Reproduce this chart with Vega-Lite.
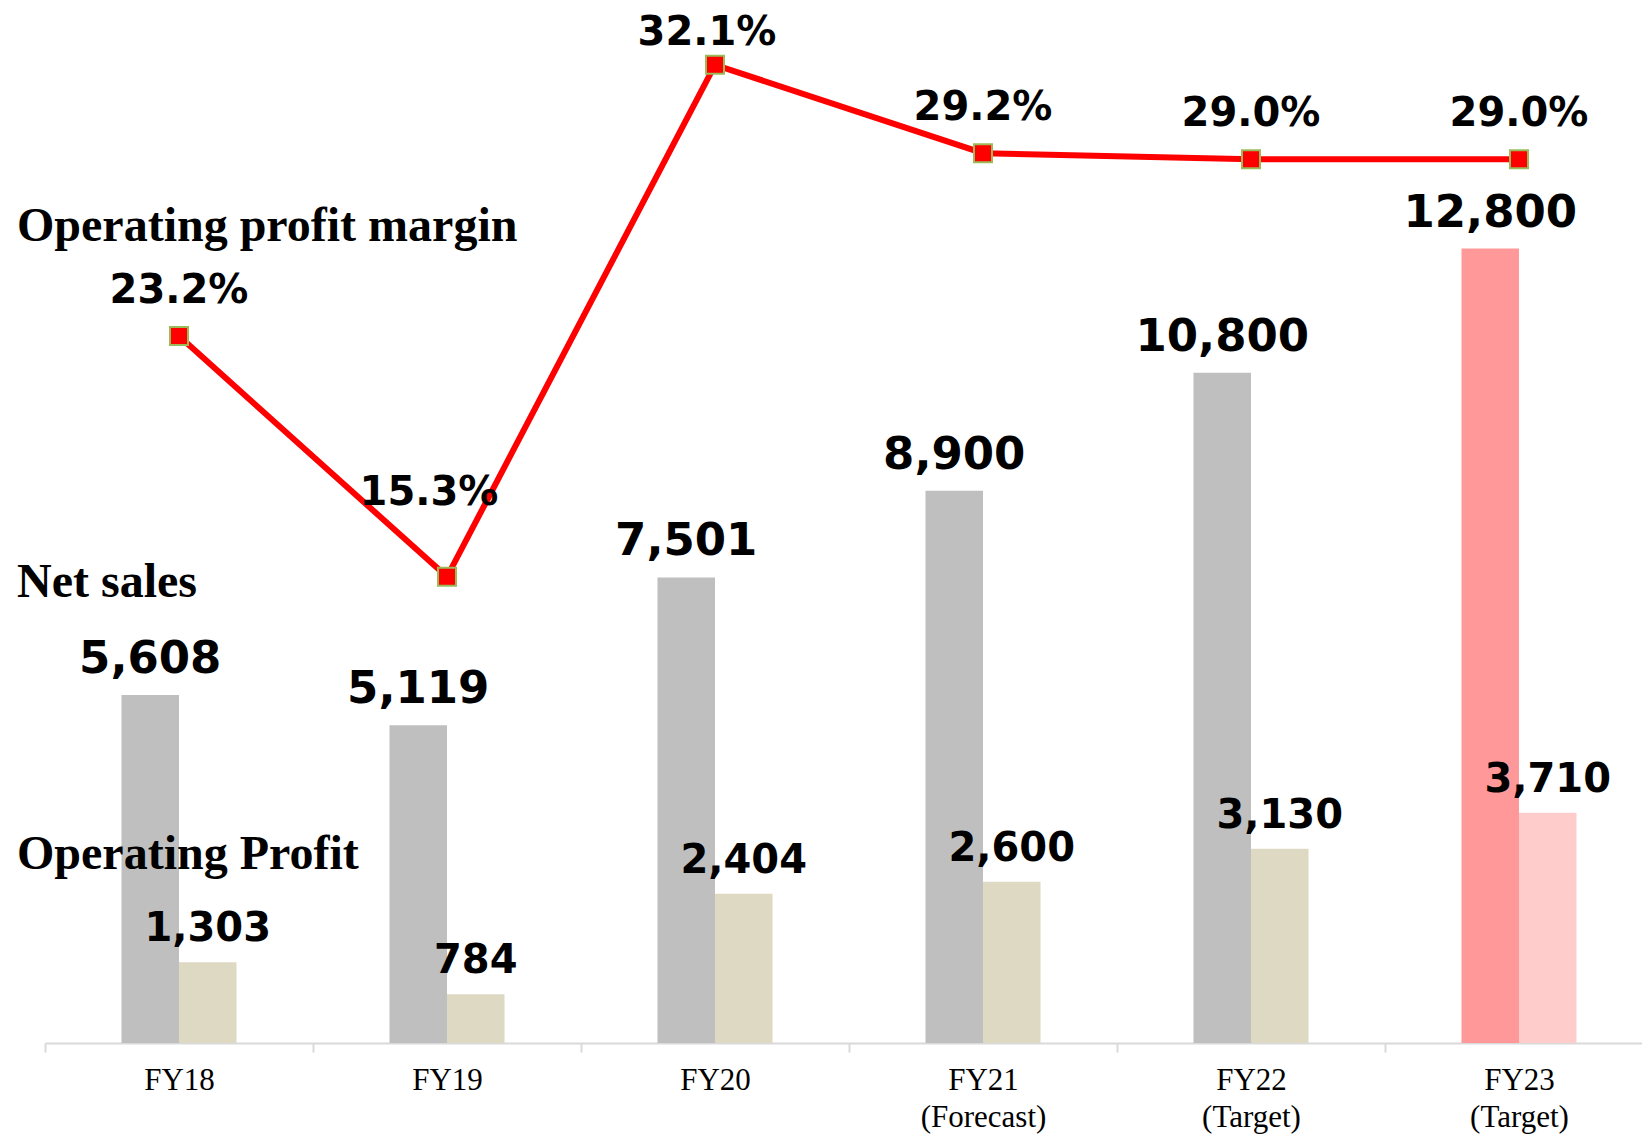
{
  "$schema": "https://vega.github.io/schema/vega-lite/v6.json",
  "autosize": "none",
  "width": 1597,
  "height": 1033,
  "padding": {"left": 45, "top": 10, "right": 0, "bottom": 91},
  "background": "white",
  "config": {"view": {"stroke": null}},
  "datasets": {
    "bars": [
      {"cat": "FY18", "series": "Net sales", "value": 5608},
      {"cat": "FY18", "series": "Operating profit", "value": 1303},
      {"cat": "FY19", "series": "Net sales", "value": 5119},
      {"cat": "FY19", "series": "Operating profit", "value": 784},
      {"cat": "FY20", "series": "Net sales", "value": 7501},
      {"cat": "FY20", "series": "Operating profit", "value": 2404},
      {"cat": "FY21 (Forecast)", "series": "Net sales", "value": 8900},
      {"cat": "FY21 (Forecast)", "series": "Operating profit", "value": 2600},
      {"cat": "FY22 (Target)", "series": "Net sales", "value": 10800},
      {"cat": "FY22 (Target)", "series": "Operating profit", "value": 3130},
      {"cat": "FY23 (Target)", "series": "Net sales", "value": 12800},
      {"cat": "FY23 (Target)", "series": "Operating profit", "value": 3710}
    ],
    "margin": [
      {"cat": "FY18", "margin": 0.232},
      {"cat": "FY19", "margin": 0.153},
      {"cat": "FY20", "margin": 0.321},
      {"cat": "FY21 (Forecast)", "margin": 0.292},
      {"cat": "FY22 (Target)", "margin": 0.290},
      {"cat": "FY23 (Target)", "margin": 0.290}
    ],
    "notes": [
      {"cat": "FY18", "value": 12923, "note": "Operating profit margin"},
      {"cat": "FY18", "value": 7187, "note": "Net sales"},
      {"cat": "FY18", "value": 2804, "note": "Operating Profit"}
    ]
  },
  "encoding": {
    "x": {
      "field": "cat",
      "type": "nominal",
      "sort": null,
      "scale": {
        "domain": ["FY18", "FY19", "FY20", "FY21 (Forecast)", "FY22 (Target)", "FY23 (Target)"],
        "range": [0, 1608],
        "paddingInner": 0,
        "paddingOuter": 0
      },
      "axis": {
        "title": null,
        "labelAngle": 0,
        "labelFont": "Liberation Serif",
        "labelFontSize": 31,
        "labelColor": "black",
        "labelLineHeight": 37,
        "labelExpr": "split(datum.label, ' ')",
        "labelPadding": 13,
        "domainColor": "#D9D9D9",
        "domainWidth": 2,
        "tickColor": "#D9D9D9",
        "tickWidth": 2,
        "tickSize": 9,
        "tickBand": "extent",
        "grid": false
      }
    }
  },
  "layer": [
    {
      "data": {"name": "bars"},
      "mark": {"type": "bar"},
      "encoding": {
        "xOffset": {"field": "series", "type": "nominal", "scale": {"domain": ["_a", "Net sales", "Operating profit", "_b"], "paddingInner": 0, "paddingOuter": 0.33}},
        "y": {"field": "value", "type": "quantitative", "scale": {"domain": [0, 16645], "nice": false, "zero": true}, "axis": null},
        "color": {
          "condition": [
            {"test": "datum.cat === 'FY23 (Target)' && datum.series === 'Net sales'", "value": "#FF9999"},
            {"test": "datum.cat === 'FY23 (Target)'", "value": "#FFCCCC"},
            {"test": "datum.series === 'Net sales'", "value": "#BFBFBF"}
          ],
          "value": "#DDD9C3"
        }
      }
    },
    {
      "data": {"name": "bars"},
      "transform": [{"filter": "datum.series === 'Net sales'"}],
      "mark": {"type": "text", "font": "DejaVu Sans", "fontWeight": "bold", "fontSize": 45, "baseline": "alphabetic", "dy": -22, "color": "black"},
      "encoding": {
        "xOffset": {"field": "series", "type": "nominal", "scale": {"domain": ["_a", "Net sales", "Operating profit", "_b"], "paddingInner": 0, "paddingOuter": 0.33}},
        "y": {"field": "value", "type": "quantitative", "scale": {"domain": [0, 16645], "nice": false, "zero": true}, "axis": null},
        "text": {"field": "value", "type": "quantitative", "format": ","}
      }
    },
    {
      "data": {"name": "bars"},
      "transform": [{"filter": "datum.series === 'Operating profit'"}],
      "mark": {"type": "text", "font": "DejaVu Sans", "fontWeight": "bold", "fontSize": 40, "baseline": "alphabetic", "dy": -21, "color": "black"},
      "encoding": {
        "xOffset": {"field": "series", "type": "nominal", "scale": {"domain": ["_a", "Net sales", "Operating profit", "_b"], "paddingInner": 0, "paddingOuter": 0.33}},
        "y": {"field": "value", "type": "quantitative", "scale": {"domain": [0, 16645], "nice": false, "zero": true}, "axis": null},
        "text": {"field": "value", "type": "quantitative", "format": ","}
      }
    },
    {
      "data": {"name": "notes"},
      "mark": {"type": "text", "font": "Liberation Serif", "fontWeight": "bold", "fontSize": 48, "align": "left", "baseline": "alphabetic", "dx": -162, "color": "black"},
      "encoding": {
        "y": {"field": "value", "type": "quantitative", "scale": {"domain": [0, 16645], "nice": false, "zero": true}, "axis": null},
        "text": {"field": "note", "type": "nominal"}
      }
    },
    {
      "data": {"name": "margin"},
      "mark": {"type": "line", "color": "#FF0000", "strokeWidth": 6},
      "encoding": {
        "y": {"field": "margin", "type": "quantitative", "scale": {"domain": [0, 0.339], "nice": false, "zero": true}, "axis": null}
      }
    },
    {
      "data": {"name": "margin"},
      "mark": {"type": "point", "shape": "square", "size": 324, "filled": true, "fill": "#FF0000", "stroke": "#9BBB59", "strokeWidth": 2, "opacity": 1},
      "encoding": {
        "y": {"field": "margin", "type": "quantitative", "scale": {"domain": [0, 0.339], "nice": false, "zero": true}, "axis": null}
      }
    },
    {
      "data": {"name": "margin"},
      "transform": [{"filter": "datum.cat !== 'FY19' && datum.cat !== 'FY20'"}],
      "mark": {"type": "text", "font": "DejaVu Sans", "fontWeight": "bold", "fontSize": 40, "baseline": "alphabetic", "dy": -33, "color": "black"},
      "encoding": {
        "y": {"field": "margin", "type": "quantitative", "scale": {"domain": [0, 0.339], "nice": false, "zero": true}, "axis": null},
        "text": {"field": "margin", "type": "quantitative", "format": ".1%"}
      }
    },
    {
      "data": {"name": "margin"},
      "transform": [{"filter": "datum.cat === 'FY20'"}],
      "mark": {"type": "text", "font": "DejaVu Sans", "fontWeight": "bold", "fontSize": 40, "baseline": "alphabetic", "dy": -20, "dx": -8, "color": "black"},
      "encoding": {
        "y": {"field": "margin", "type": "quantitative", "scale": {"domain": [0, 0.339], "nice": false, "zero": true}, "axis": null},
        "text": {"field": "margin", "type": "quantitative", "format": ".1%"}
      }
    },
    {
      "data": {"name": "margin"},
      "transform": [{"filter": "datum.cat === 'FY19'"}],
      "mark": {"type": "text", "font": "DejaVu Sans", "fontWeight": "bold", "fontSize": 40, "baseline": "alphabetic", "dy": -72, "dx": -18, "color": "black"},
      "encoding": {
        "y": {"field": "margin", "type": "quantitative", "scale": {"domain": [0, 0.339], "nice": false, "zero": true}, "axis": null},
        "text": {"field": "margin", "type": "quantitative", "format": ".1%"}
      }
    }
  ],
  "resolve": {"scale": {"y": "independent"}}
}
